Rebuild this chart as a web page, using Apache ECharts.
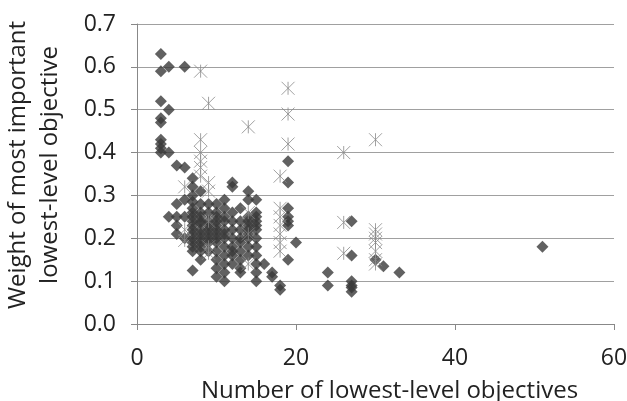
<!DOCTYPE html>
<html>
<head>
<meta charset="utf-8">
<script src="https://cdn.jsdelivr.net/npm/echarts@6/dist/echarts.min.js"></script>
<style>
  html, body { margin: 0; padding: 0; background: #fff; }
  #chart { width: 627px; height: 401px; }
</style>
</head>
<body>
<div id="chart"></div>
<script>
// diamonds: [number of lowest-level objectives, weight]
var diamondPts = [
  [3,0.63],[3,0.59],[3,0.52],[3,0.48],[3,0.47],[3,0.43],[3,0.42],[3,0.41],[3,0.40],
  [4,0.60],[4,0.50],[4,0.40],[4,0.25],
  [5,0.37],[5,0.28],[5,0.25],[5,0.23],[5,0.21],
  [6,0.60],[6,0.365],[6,0.29],[6,0.25],[6,0.20],
  [7,0.34],[7,0.32],[7,0.30],[7,0.285],[7,0.27],[7,0.26],[7,0.25],[7,0.24],[7,0.23],[7,0.22],[7,0.21],[7,0.20],[7,0.19],[7,0.18],[7,0.17],[7,0.125],
  [8,0.31],[8,0.28],[8,0.26],[8,0.25],[8,0.24],[8,0.235],[8,0.22],[8,0.21],[8,0.20],[8,0.19],[8,0.18],[8,0.17],[8,0.15],
  [9,0.28],[9,0.26],[9,0.24],[9,0.23],[9,0.22],[9,0.21],[9,0.20],[9,0.19],[9,0.17],
  [10,0.28],[10,0.26],[10,0.25],[10,0.24],[10,0.23],[10,0.22],[10,0.21],[10,0.20],[10,0.19],[10,0.17],[10,0.15],[10,0.13],[10,0.11],
  [11,0.29],[11,0.27],[11,0.25],[11,0.24],[11,0.22],[11,0.21],[11,0.20],[11,0.18],[11,0.16],[11,0.14],[11,0.12],[11,0.10],
  [12,0.33],[12,0.32],[12,0.26],[12,0.24],[12,0.22],[12,0.20],[12,0.18],[12,0.17],[12,0.16],[12,0.14],
  [13,0.27],[13,0.24],[13,0.22],[13,0.20],[13,0.19],[13,0.17],[13,0.15],[13,0.13],[13,0.12],
  [14,0.31],[14,0.29],[14,0.25],[14,0.24],[14,0.23],[14,0.22],[14,0.21],[14,0.20],[14,0.18],[14,0.16],
  [15,0.29],[15,0.26],[15,0.25],[15,0.24],[15,0.23],[15,0.22],[15,0.20],[15,0.18],[15,0.16],[15,0.14],[15,0.12],[15,0.10],
  [16,0.14],[17,0.12],[17,0.11],[18,0.09],[18,0.08],
  [19,0.38],[19,0.33],[19,0.27],[19,0.25],[19,0.24],[19,0.23],[19,0.15],
  [20,0.19],[24,0.12],[24,0.09],
  [27,0.24],[27,0.16],[27,0.10],[27,0.09],[27,0.085],[27,0.075],
  [30,0.15],[31,0.135],[33,0.12],[51,0.18]
];

// asterisks
var starPts = [
  [8,0.59],[9,0.515],[8,0.43],[8,0.40],[8,0.38],[8,0.365],[8,0.345],
  [6,0.32],[9,0.33],[9,0.31],[9,0.24],[6,0.22],[6,0.195],[9,0.18],[9,0.165],
  [14,0.46],[14,0.26],[14,0.21],[14,0.14],
  [19,0.55],[19,0.49],[19,0.42],
  [18,0.345],[18,0.27],[18,0.25],[18,0.23],[18,0.21],[18,0.19],[18,0.17],
  [26,0.40],[26,0.237],[26,0.165],
  [30,0.43],[30,0.22],[30,0.21],[30,0.20],[30,0.19],[30,0.17],[30,0.15],[30,0.14]
];

var xTicks = { min: 0, max: 60, step: 20 };
var yTicks = { min: 0, max: 0.7, step: 0.1 };

var fontFam = '"Open Sans", sans-serif';
var chart = echarts.init(document.getElementById('chart'));

var option = {
  animation: false,
  grid: { left: 137, right: 13, top: 24, bottom: 77, containLabel: false, outerBoundsMode: 'none' },
  xAxis: {
    type: 'value',
    min: xTicks.min, max: xTicks.max, interval: xTicks.step,
    name: 'Number of lowest-level objectives',
    nameLocation: 'middle',
    nameGap: 55,
    nameTextStyle: { fontFamily: fontFam, fontSize: 24, color: '#222', padding: [0, 0, 0, 28] },
    axisLine: { show: true, lineStyle: { color: '#888', width: 1 } },
    axisTick: { show: true, length: 6, lineStyle: { color: '#888' } },
    axisLabel: { fontFamily: fontFam, fontSize: 23, color: '#222', margin: 23 },
    splitLine: { show: false }
  },
  yAxis: {
    type: 'value',
    min: yTicks.min, max: yTicks.max, interval: yTicks.step,
    name: 'Weight of most important\nlowest-level objective',
    nameLocation: 'middle',
    nameRotate: 90,
    nameGap: 71,
    nameTextStyle: { fontFamily: fontFam, fontSize: 24, color: '#222', lineHeight: 32, padding: [0, 0, 0, 18] },
    axisLine: { show: true, lineStyle: { color: '#888', width: 1 } },
    axisTick: { show: true, length: 6, lineStyle: { color: '#888' } },
    axisLabel: {
      fontFamily: fontFam, fontSize: 23, color: '#222', margin: 21,
      formatter: function (v) { return v.toFixed(1); }
    },
    splitLine: { show: true, lineStyle: { color: '#a0a0a0', width: 1 } }
  },
  series: [
    {
      type: 'scatter',
      data: diamondPts,
      symbol: 'diamond',
      symbolSize: 12,
      itemStyle: { color: '#3a3a3a' },
      z: 2
    },
    {
      type: 'scatter',
      data: starPts,
      symbol: 'path://M0,0 L12,12 M12,0 L0,12 M6,0 L6,12',
      symbolSize: 13,
      itemStyle: { color: 'rgba(0,0,0,0)', borderColor: '#8a8a8a', borderWidth: 1 },
      z: 3
    }
  ]
};
chart.setOption(option);
</script>
</body>
</html>
